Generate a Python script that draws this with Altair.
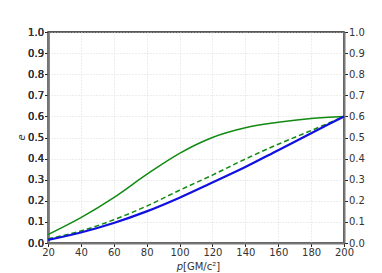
import altair as alt
import pandas as pd

p_vals = [20, 40, 60, 80, 100, 120, 140, 160, 180, 200]
green_solid = [0.04, 0.12, 0.215, 0.325, 0.425, 0.5, 0.546, 0.572, 0.59, 0.6]
green_dashed = [0.02, 0.057, 0.11, 0.175, 0.25, 0.322, 0.398, 0.468, 0.533, 0.6]
blue_solid = [0.015, 0.05, 0.095, 0.15, 0.215, 0.287, 0.36, 0.44, 0.52, 0.6]

x_ticks = [20, 40, 60, 80, 100, 120, 140, 160, 180, 200]
y_ticks = [0.0, 0.1, 0.2, 0.3, 0.4, 0.5, 0.6, 0.7, 0.8, 0.9, 1.0]

rows = []
for name, vals in [("gs", green_solid), ("gd", green_dashed), ("b", blue_solid)]:
    for p, v in zip(p_vals, vals):
        rows.append({"p": p, "e": v, "s": name})
df = pd.DataFrame(rows)

W, H = 296, 211
xs = alt.Scale(domain=[20, 200], nice=False, zero=False)
ys = alt.Scale(domain=[0, 1], nice=False)

axis_common = dict(labelFont="DejaVu Sans", labelFontSize=10, labelColor="#333",
                   labelFontWeight="normal", labelFlush=False,
                   tickColor="#222", tickSize=3.5, domainColor="#777", domainWidth=2,
                   gridColor="#d0d0d0", gridDash=[1, 2], gridWidth=0.8, title=None,
                   labelPadding=1)

x_enc = alt.X("p:Q", scale=xs, axis=alt.Axis(values=x_ticks, format="d", **axis_common))

base = alt.Chart(df)

def line(name, color, width, dash=None):
    kw = dict(color=color, strokeWidth=width, interpolate="monotone")
    if dash:
        kw["strokeDash"] = dash
    return base.transform_filter(alt.datum.s == name).mark_line(**kw).encode(
        x=x_enc,
        y=alt.Y("e:Q", scale=ys, axis=alt.Axis(values=y_ticks, format=".1f", orient="left", **axis_common)),
    )

right_axis = base.mark_line(opacity=0).encode(
    x=x_enc,
    y=alt.Y("e:Q", scale=ys, axis=alt.Axis(values=y_ticks, format=".1f", orient="right", grid=False, **axis_common)),
)

xlabel_p = alt.Chart(pd.DataFrame({"t": ["p"]})).mark_text(
    font="DejaVu Sans", fontSize=10, fontStyle="italic", align="right", baseline="alphabetic", fill="#333"
).encode(text="t:N", x=alt.value(135), y=alt.value(H + 27))
xlabel_rest = alt.Chart(pd.DataFrame({"t": ["[GM/c²]"]})).mark_text(
    font="DejaVu Sans", fontSize=10, align="left", baseline="alphabetic", fill="#333"
).encode(text="t:N", x=alt.value(135), y=alt.value(H + 27))
ylabel = alt.Chart(pd.DataFrame({"t": ["e"]})).mark_text(
    font="DejaVu Sans", fontSize=10, fontStyle="italic", angle=270, align="center", baseline="middle", fill="#333"
).encode(text="t:N", x=alt.value(-26), y=alt.value(H / 2))

chart = alt.layer(
    line("gs", "#108a10", 1.5),
    line("gd", "#108a10", 1.5, [5, 3]),
    line("b", "#1010e0", 2.2),
    right_axis,
    xlabel_p, xlabel_rest, ylabel,
).resolve_axis(y="independent").properties(
    width=W, height=H,
    autosize=alt.AutoSizeParams(type="none"),
    padding={"left": 40, "top": 24, "right": 30, "bottom": 30},
).configure_view(stroke="#222", strokeWidth=1.5)

chart.save("out.html", embed_options={"renderer": "svg", "actions": False})
